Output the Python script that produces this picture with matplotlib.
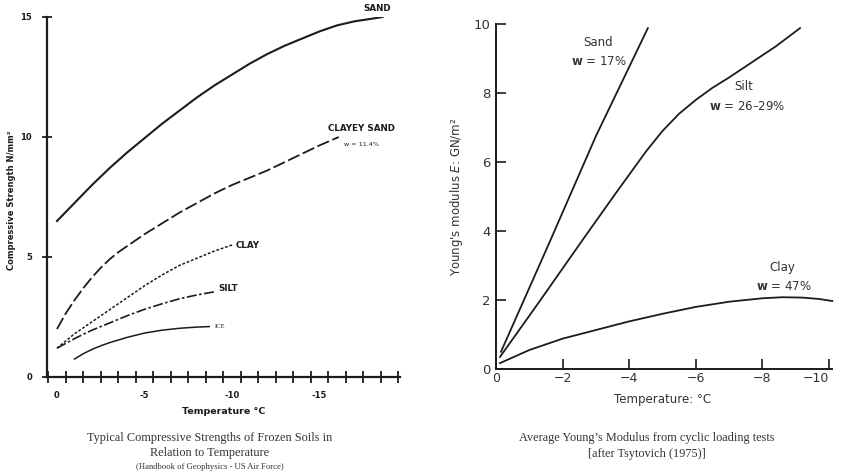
import numpy as np
import matplotlib
matplotlib.use('Agg')
import matplotlib.pyplot as plt

# left panel: compressive strength (N/mm2) vs temperature (degC)
sand_t = [0, -1, -2, -3, -4, -5, -6, -7, -8, -9, -10, -11, -12, -13, -14, -15, -16, -17, -18, -18.6]
sand_s = [6.5, 7.25, 8.0, 8.7, 9.35, 9.95, 10.55, 11.1, 11.65, 12.15, 12.6, 13.05, 13.45, 13.8, 14.1, 14.4, 14.65, 14.82, 14.93, 15.0]
csand_t = [0, -0.5, -1, -1.5, -2, -2.5, -3, -3.5, -4, -5, -6, -7, -8, -9, -10, -11, -12, -13, -14, -15, -16.1]
csand_s = [2.0, 2.65, 3.2, 3.7, 4.15, 4.55, 4.9, 5.2, 5.45, 5.95, 6.4, 6.85, 7.25, 7.65, 8.0, 8.3, 8.6, 8.95, 9.3, 9.65, 10.0]
clay_t = [0, -0.5, -1, -1.5, -2, -2.5, -3, -4, -5, -6, -7, -8, -9, -10]
clay_s = [1.2, 1.5, 1.8, 2.05, 2.3, 2.55, 2.8, 3.3, 3.8, 4.25, 4.65, 4.95, 5.25, 5.5]
silt_t = [0, -0.5, -1, -1.5, -2, -3, -4, -5, -6, -7, -8, -9]
silt_s = [1.2, 1.4, 1.6, 1.78, 1.95, 2.25, 2.55, 2.82, 3.05, 3.26, 3.42, 3.55]
ice_t = [-1.0, -1.5, -2, -2.5, -3, -4, -5, -6, -7, -8, -8.7]
ice_s = [0.75, 0.97, 1.15, 1.3, 1.43, 1.65, 1.83, 1.95, 2.03, 2.08, 2.1]

# right panel: Young's modulus (GN/m2) vs temperature (degC)
ysand_t = [-0.15, -1.62, -3.0, -4.56]
ysand_e = [0.5, 3.7, 6.75, 9.88]
ysilt_t = [-0.12, -1.3, -2.6, -3.6, -4.5, -5.0, -5.5, -6.0, -6.5, -7.0, -7.7, -8.4, -9.13]
ysilt_e = [0.35, 1.95, 3.74, 5.1, 6.3, 6.9, 7.4, 7.8, 8.15, 8.45, 8.9, 9.35, 9.88]
yclay_t = [-0.12, -1.0, -2.0, -3.0, -4.0, -5.0, -6.0, -7.0, -8.0, -8.6, -9.2, -9.7, -10.1]
yclay_e = [0.17, 0.55, 0.88, 1.13, 1.38, 1.6, 1.8, 1.95, 2.05, 2.08, 2.07, 2.03, 1.97]

ink = '#1c1c1c'
grey = '#333333'
W, H = 841, 475
fig = plt.figure(figsize=(W / 100, H / 100), dpi=100)

def px_axes(x0, x1, y_top, y_bot):
    return fig.add_axes([x0 / W, 1 - y_bot / H, (x1 - x0) / W, (y_bot - y_top) / H])

# ---------------- left chart ----------------
ax1 = px_axes(46.5, 400, 17, 377)
ax1.set_xlim(0.6, -19.6)
ax1.set_ylim(0, 15)
for s in ['top', 'right']:
    ax1.spines[s].set_visible(False)
for s in ['left', 'bottom']:
    ax1.spines[s].set_linewidth(1.6)
    ax1.spines[s].set_color(ink)
ax1.plot(sand_t, sand_s, color=ink, lw=1.5)
ax1.plot(csand_t, csand_s, color=ink, lw=1.3, dashes=(7, 2))
ax1.plot(clay_t, clay_s, color=ink, lw=1.1, dashes=(1.8, 1.2))
ax1.plot(silt_t, silt_s, color=ink, lw=1.2, dashes=(6, 1.5, 1.5, 1.5))
ax1.plot(ice_t, ice_s, color=ink, lw=1.1)

ax1.set_xticks(np.arange(0.5, -20, -1))
ax1.set_xticklabels([])
ax1.set_xticks([0, -5, -10, -15], minor=True)
ax1.set_xticklabels(['0', '-5', '-10', '-15'], minor=True, fontsize=6, fontweight='bold', color=ink)
ax1.tick_params(axis='x', which='major', direction='inout', length=8, width=1.3, color=ink)
ax1.tick_params(axis='x', which='minor', length=0, pad=10)
ax1.set_yticks([0, 5, 10, 15])
ax1.set_yticklabels(['0', '5', '10', '15'], fontsize=6, fontweight='bold', color=ink)
ax1.tick_params(axis='y', direction='inout', length=7, width=1.3, color=ink, pad=7)
ax1.set_xlabel('Temperature °C', fontsize=6.8, fontweight='bold', color=ink, labelpad=5)
fig.text(12 / W, 1 - 200 / H, 'Compressive Strength N/mm²', rotation=90, fontsize=6,
         fontweight='bold', color=ink, ha='center', va='center')

ax1.text(-18.3, 15.35, 'SAND', fontsize=6.3, fontweight='bold', color=ink, ha='center', va='center')
ax1.text(-17.4, 10.35, 'CLAYEY SAND', fontsize=6.3, fontweight='bold', color=ink, ha='center', va='center')
ax1.text(-17.4, 9.7, 'w = 11.4%', fontsize=4.6, color=ink, ha='center', va='center')
ax1.text(-10.2, 5.5, 'CLAY', fontsize=6.3, fontweight='bold', color=ink, ha='left', va='center')
ax1.text(-9.2, 3.68, 'SILT', fontsize=6.3, fontweight='bold', color=ink, ha='left', va='center')
ax1.text(-9.0, 2.1, 'ICE', fontsize=4.8, color=ink, ha='left', va='center', family='Liberation Serif')

fig.text(210 / W, 1 - 438 / H, 'Typical Compressive Strengths of Frozen Soils in',
         fontsize=8.8, family='Liberation Serif', ha='center', va='center', color=grey)
fig.text(210 / W, 1 - 453 / H, 'Relation to Temperature',
         fontsize=8.8, family='Liberation Serif', ha='center', va='center', color=grey)
fig.text(210 / W, 1 - 467 / H, '(Handbook of Geophysics - US Air Force)',
         fontsize=6.2, family='Liberation Serif', ha='center', va='center', color=grey)

# ---------------- right chart ----------------
ax2 = px_axes(496, 829, 24, 369)
ax2.set_xlim(0, -10)
ax2.set_ylim(0, 10)
for s in ['top', 'right']:
    ax2.spines[s].set_visible(False)
for s in ['left', 'bottom']:
    ax2.spines[s].set_linewidth(1.4)
    ax2.spines[s].set_color(ink)
ax2.spines['bottom'].set_bounds(0, -10.1)
ax2.plot(ysand_t, ysand_e, color=ink, lw=1.3)
ax2.plot(ysilt_t, ysilt_e, color=ink, lw=1.3)
ax2.plot(yclay_t, yclay_e, color=ink, lw=1.3, clip_on=False)

ax2.set_xticks([0, -2, -4, -6, -8, -10])
ax2.set_xticklabels(['0', '−2', '−4', '−6', '−8', '−10'], fontsize=9, color=grey)
ax2.get_xticklabels()[-1].set_horizontalalignment('right')
ax2.get_xticklabels()[-1].set_x(-10.35)
ax2.set_yticks([0, 2, 4, 6, 8, 10])
ax2.set_yticklabels(['0', '2', '4', '6', '8', '10'], fontsize=9.5, color=grey)
ax2.tick_params(direction='in', length=7, width=1.2, color=ink)
ax2.tick_params(axis='x', pad=2)
ax2.tick_params(axis='y', pad=4)
ax2.set_xlabel('Temperature: °C', fontsize=8.5, color=grey, labelpad=6)
ax2.set_ylabel("Young's modulus $\\it{E}$: GN/m²", fontsize=8.5, color=grey, labelpad=6)

ax2.text(-3.05, 9.45, 'Sand', fontsize=8.5, color=grey, ha='center', va='center')
ax2.text(-3.1, 8.9, r'$\mathbf{w}$ = 17%', fontsize=8.5, color=grey, ha='center', va='center')
ax2.text(-7.45, 8.2, 'Silt', fontsize=8.5, color=grey, ha='center', va='center')
ax2.text(-7.55, 7.6, r'$\mathbf{w}$ = 26–29%', fontsize=8.5, color=grey, ha='center', va='center')
ax2.text(-8.6, 2.95, 'Clay', fontsize=8.5, color=grey, ha='center', va='center')
ax2.text(-8.65, 2.4, r'$\mathbf{w}$ = 47%', fontsize=8.5, color=grey, ha='center', va='center')

fig.text(647 / W, 1 - 438 / H, 'Average Young’s Modulus from cyclic loading tests',
         fontsize=8.8, family='Liberation Serif', ha='center', va='center', color=grey)
fig.text(647 / W, 1 - 454 / H, '[after Tsytovich (1975)]',
         fontsize=8.8, family='Liberation Serif', ha='center', va='center', color=grey)

plt.savefig('out.png', dpi=100)
